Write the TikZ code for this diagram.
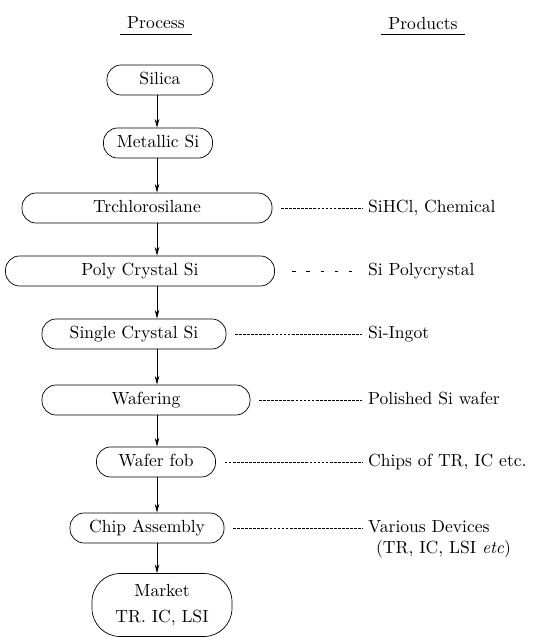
\documentclass[tikz,border=0pt]{standalone}
\usetikzlibrary{arrows.meta,calc}
\tikzset{>={Stealth[length=5pt,width=2.6pt]},every node/.style={font=\normalsize},
proc/.style={draw,thin,rounded corners=8pt,minimum height=.6cm,inner sep=1pt,text height=1.6ex,text depth=.4ex},
prod/.style={anchor=west,inner sep=1pt,text height=1.6ex,text depth=.4ex},
flow/.style={thin,->},link/.style={very thin,dash pattern=on 1.6pt off .7pt,shorten <=5pt,shorten >=2pt},
ttl/.style={inner xsep=4pt,inner ysep=3pt,text depth=0pt}}

\begin{document}
\begin{tikzpicture}[x=.02cm,y=-.02cm]
\useasboundingbox (0,0) rectangle (557,638);
\node[ttl] (hproc) at (156,23){Process};\node[ttl] (hprod) at (423,23){Products};
\foreach \h in {hproc,hprod}{\draw[thin] (\h.south west)--(\h.south east);}
\foreach \n/\x/\y/\w/\t in {silica/160/80/106/Silica,metal/158/143/109/Metallic Si,trch/147/208/250/Trchlorosilane,poly/140/271/269/Poly Crystal Si,single/134/334/184/Single Crystal Si,wafer/146/400/208/Wafering,fob/156/462/119/Wafer fob,chip/147/528/154/Chip Assembly}
{\node[proc,minimum width=\w*.02cm] (\n) at (\x,\y){\t};}
\node[proc,text height=,text depth=,align=center,rounded corners=16pt,minimum width=2.8cm,minimum height=1.26cm] (market) at (162,605){Market\\[3pt]TR. IC, LSI};
\coordinate (ax) at (157,0);
\foreach \a/\b in {silica/metal,metal/trch,trch/poly,poly/single,single/wafer,wafer/fob,fob/chip,chip/market}{\draw[flow] (\a.south-|ax)--(\b.north-|ax);}
\foreach \n/\y/\t in {pchem/208/{SiHCl, Chemical},ppoly/271/Si Polycrystal,pingot/334/Si-Ingot,pwafer/400/Polished Si wafer,pchips/462/{Chips of TR, IC etc.},pdev/528/Various Devices}
{\node[prod] (\n) at (366,\y){\t};}
\node[prod] (pdev2) at (374,549){(TR, IC, LSI \textit{etc})};
\foreach \a/\b in {trch/pchem,single/pingot,wafer/pwafer,fob/pchips,chip/pdev}{\draw[link] (\a.east)--(\a.east-|\b.west);}
\draw[link,dash pattern=on 2pt off 6pt,shorten <=10pt] (poly.east)--(poly.east-|ppoly.west);
\end{tikzpicture}
\end{document}
